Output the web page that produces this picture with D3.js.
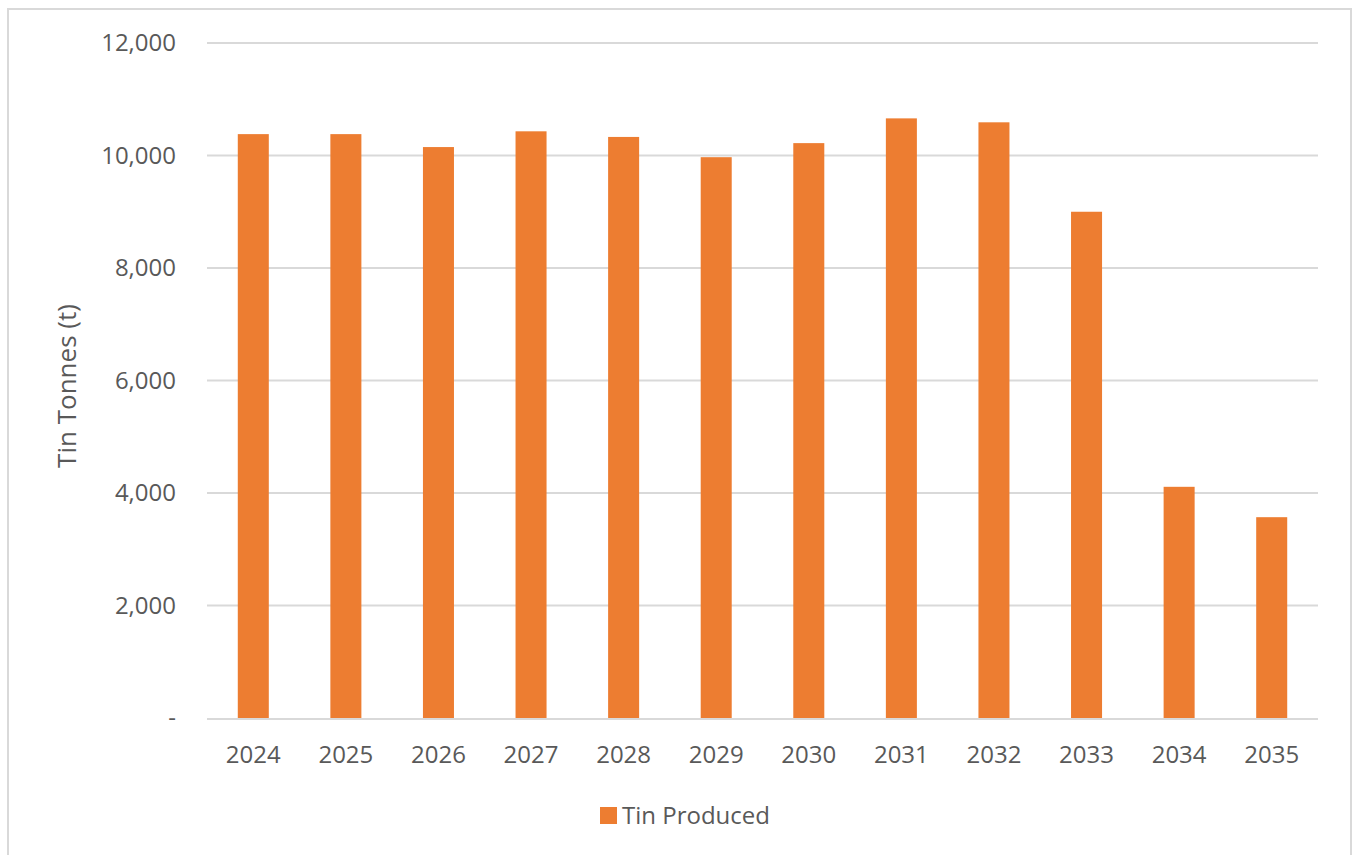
<!DOCTYPE html>
<html>
<head>
<meta charset="utf-8">
<script src="https://cdn.jsdelivr.net/npm/d3@7"></script>
<style>
  html, body { margin: 0; padding: 0; background: #fff; }
  svg { display: block; font-family: "Open Sans", "Noto Sans", sans-serif; }
</style>
</head>
<body>
<svg id="chart" width="1358" height="855"></svg>
<script>
const categories = ["2024","2025","2026","2027","2028","2029","2030","2031","2032","2033","2034","2035"];
const tinProduced = [10380, 10380, 10150, 10430, 10330, 9970, 10220, 10660, 10590, 9000, 4110, 3570];
const yTicks = [0, 2000, 4000, 6000, 8000, 10000, 12000];
const seriesName = "Tin Produced";
const yTitle = "Tin Tonnes (t)";

const svg = d3.select("#chart");
const plot = { left: 207, right: 1318, top: 43, bottom: 718 };
const textColor = "#595959";
const gridColor = "#d9d9d9";
const barColor = "#ED7D31";

// outer frame
svg.append("rect")
  .attr("x", 8).attr("y", 9).attr("width", 1343).attr("height", 860)
  .attr("fill", "none").attr("stroke", gridColor).attr("stroke-width", 2);

const x = d3.scaleBand().domain(categories).range([plot.left, plot.right]).paddingInner(0.665).paddingOuter(0.3325);
const y = d3.scaleLinear().domain([0, 12000]).range([plot.bottom, plot.top]);

// gridlines
svg.append("g").selectAll("line").data(yTicks.filter(d => d > 0)).join("line")
  .attr("x1", plot.left).attr("x2", plot.right)
  .attr("y1", d => y(d)).attr("y2", d => y(d))
  .attr("stroke", gridColor).attr("stroke-width", 2);

// y tick labels
const fmt = d => d === 0 ? "-" : d3.format(",")(d);
svg.append("g").selectAll("text").data(yTicks).join("text")
  .attr("x", 176).attr("y", d => y(d) + 8)
  .attr("text-anchor", "end")
  .attr("fill", textColor)
  .attr("font-size", 24)
  .text(fmt);

// bars
svg.append("g").selectAll("rect").data(categories).join("rect")
  .attr("x", d => x(d))
  .attr("width", x.bandwidth())
  .attr("y", (d, i) => y(tinProduced[i]))
  .attr("height", (d, i) => y(0) - y(tinProduced[i]))
  .attr("fill", barColor);

// x axis line
svg.append("line")
  .attr("x1", plot.left).attr("x2", plot.right)
  .attr("y1", y(0) + 1).attr("y2", y(0) + 1)
  .attr("stroke", gridColor).attr("stroke-width", 2);

// x labels
svg.append("g").selectAll("text").data(categories).join("text")
  .attr("x", d => x(d) + x.bandwidth() / 2)
  .attr("y", 763)
  .attr("text-anchor", "middle")
  .attr("fill", textColor)
  .attr("font-size", 24)
  .text(d => d);

// y title
svg.append("text")
  .attr("transform", `translate(76, 386) rotate(-90)`)
  .attr("text-anchor", "middle")
  .attr("fill", textColor)
  .attr("font-size", 26)
  .text(yTitle);

// legend
const lg = svg.append("g");
lg.append("rect").attr("x", 600).attr("y", 807).attr("width", 17).attr("height", 17).attr("fill", barColor);
lg.append("text").attr("x", 622).attr("y", 824).attr("fill", textColor).attr("font-size", 24).text(seriesName);
</script>
</body>
</html>
